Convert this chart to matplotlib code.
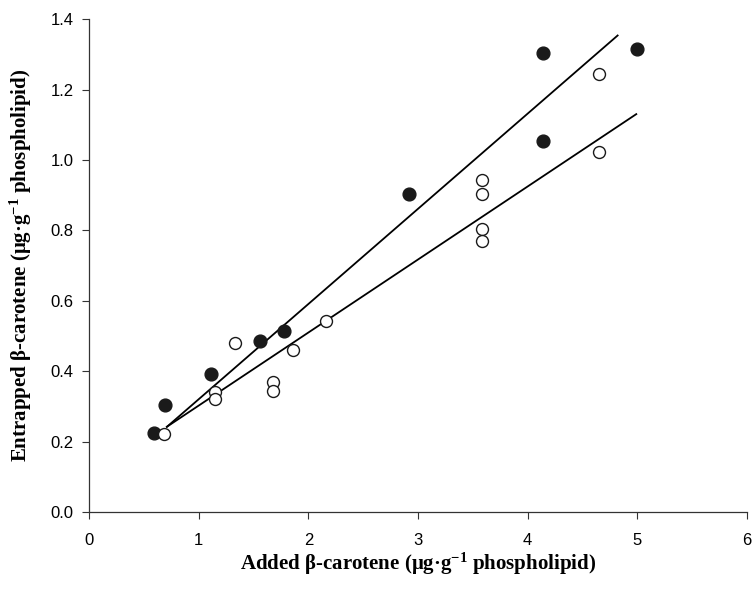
import matplotlib
matplotlib.use("Agg")
import matplotlib.pyplot as plt
import numpy as np

# filled circles
filled_x = [0.59, 0.69, 1.11, 1.56, 1.78, 2.92, 4.14, 4.14, 5.00]
filled_y = [0.225, 0.303, 0.393, 0.486, 0.514, 0.904, 1.304, 1.055, 1.316]

# open circles
open_x = [0.68, 1.15, 1.15, 1.33, 1.68, 1.68, 1.86, 2.16,
          3.58, 3.58, 3.58, 3.58, 4.65, 4.65]
open_y = [0.222, 0.341, 0.322, 0.481, 0.369, 0.345, 0.461, 0.542,
          0.944, 0.904, 0.804, 0.771, 1.244, 1.022]

# regression lines: slope, intercept, x range
filled_fit = {"slope": 0.2705, "intercept": 0.050, "x": [0.71, 4.82]}
open_fit = {"slope": 0.2075, "intercept": 0.095, "x": [0.71, 4.99]}

x_ticks = [0, 1, 2, 3, 4, 5, 6]
y_ticks = [0.0, 0.2, 0.4, 0.6, 0.8, 1.0, 1.2, 1.4]

plt.rcParams["mathtext.fontset"] = "custom"
plt.rcParams["mathtext.rm"] = "Liberation Serif:bold"
plt.rcParams["mathtext.default"] = "rm"

fig = plt.figure(figsize=(7.52, 6.01), dpi=100)
ax = fig.add_axes([0.1184, 0.148, 0.875, 0.820])

for fit in (filled_fit, open_fit):
    xs = np.array(fit["x"])
    ax.plot(xs, fit["slope"] * xs + fit["intercept"], color="black", lw=1.3, zorder=2)

ax.plot(filled_x, filled_y, "o", ms=9.2, color="#1a1a1a", mec="#1a1a1a", zorder=3)
ax.plot(open_x, open_y, "o", ms=8.6, mfc="white", mec="#1a1a1a", mew=1.0, zorder=3)

ax.set_xlim(0, 6)
ax.set_ylim(0, 1.4)
ax.set_xticks(x_ticks)
ax.set_yticks(y_ticks)
ax.set_xticklabels([str(v) for v in x_ticks], fontfamily="Liberation Sans", fontsize=12)
ax.set_yticklabels(["%.1f" % v for v in y_ticks], fontfamily="Liberation Sans", fontsize=12)
ax.tick_params(direction="out", length=5, width=0.8, color="#333333", pad=6)
ax.tick_params(axis="x", pad=10)
for s in ("top", "right"):
    ax.spines[s].set_visible(False)
for s in ("left", "bottom"):
    ax.spines[s].set_linewidth(0.9)
    ax.spines[s].set_color("#333333")

ax.set_xlabel("Added β-carotene (μg·g$^{-1}$ phospholipid)",
              fontfamily="Liberation Serif", fontweight="bold", fontsize=15, labelpad=3)
ax.set_ylabel("Entrapped β-carotene (μg·g$^{-1}$ phospholipid)",
              fontfamily="Liberation Serif", fontweight="bold", fontsize=15, labelpad=12)
ax.xaxis.set_label_coords(0.5, -0.078)

fig.savefig("out.png", dpi=100)
